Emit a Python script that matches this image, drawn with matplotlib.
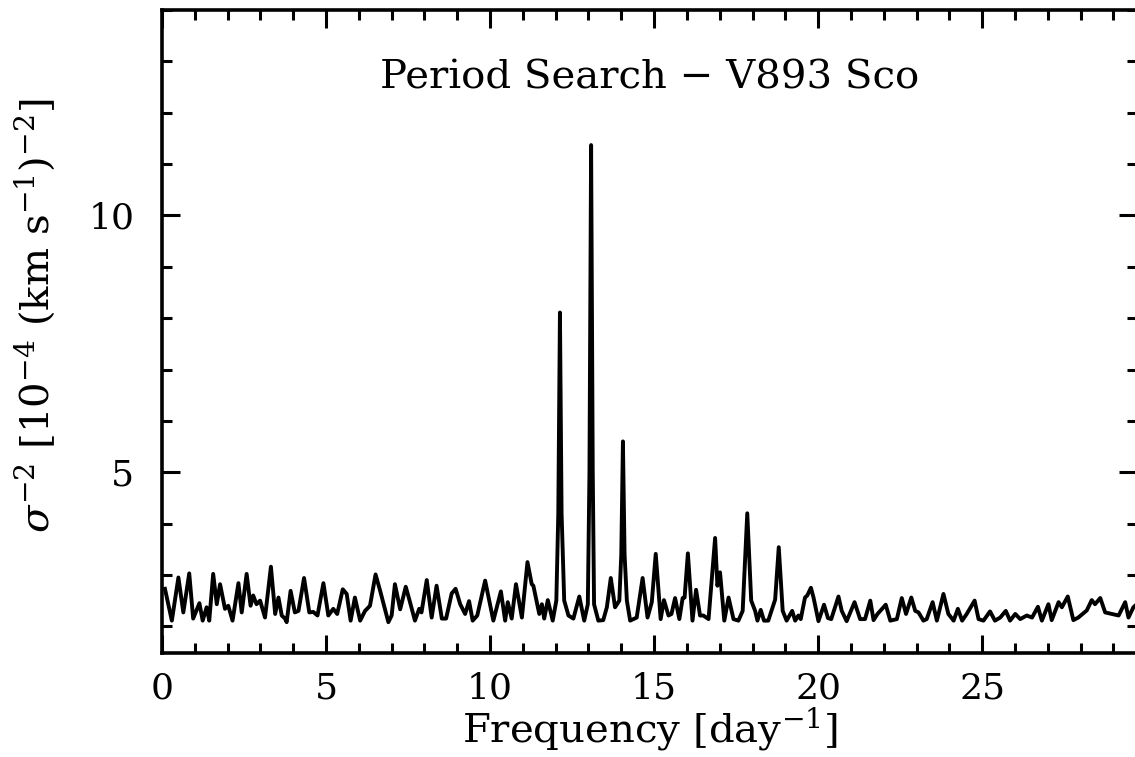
import numpy as np
import matplotlib.pyplot as plt
from matplotlib.ticker import MultipleLocator

plt.rcParams['font.family'] = 'DejaVu Serif'
plt.rcParams['mathtext.fontset'] = 'dejavuserif'

# periodogram: frequency [1/day] and sigma^-2 [1e-4 (km/s)^-2]
freq = [0.09, 0.30, 0.50, 0.65, 0.83, 0.95, 1.14, 1.24, 1.36, 1.44, 1.56, 1.67, 1.77, 1.92, 2.02, 2.15,
        2.33, 2.43, 2.58, 2.70, 2.78, 2.88, 2.99, 3.14, 3.32, 3.45, 3.55, 3.65, 3.75, 3.80, 3.92, 4.05,
        4.16, 4.33, 4.49, 4.61, 4.74, 4.92, 5.07, 5.22, 5.34, 5.51, 5.63, 5.75, 5.88, 6.04, 6.19, 6.34,
        6.51, 6.65, 6.90, 7.00, 7.10, 7.26, 7.43, 7.56, 7.71, 7.84, 7.91, 8.07, 8.22, 8.37, 8.53, 8.66,
        8.83, 8.95, 9.09, 9.24, 9.36, 9.47, 9.61, 9.85, 10.10, 10.33, 10.46, 10.54, 10.66, 10.79, 10.97,
        11.14, 11.27, 11.32, 11.50, 11.58, 11.65, 11.76, 11.91, 12.02, 12.08, 12.13, 12.18, 12.26, 12.39,
        12.54, 12.72, 12.87, 12.98, 13.03, 13.08, 13.13, 13.17, 13.30, 13.45, 13.56, 13.68, 13.81, 13.94,
        14.00, 14.05, 14.10, 14.17, 14.27, 14.47, 14.65, 14.80, 14.93, 15.05, 15.20, 15.30, 15.44, 15.53,
        15.64, 15.77, 15.87, 15.93, 16.03, 16.17, 16.28, 16.40, 16.50, 16.66, 16.86, 16.93, 17.01, 17.14,
        17.27, 17.42, 17.57, 17.70, 17.84, 17.96, 18.08, 18.15, 18.25, 18.35, 18.48, 18.69, 18.80, 18.92,
        19.04, 19.21, 19.30, 19.40, 19.47, 19.60, 19.67, 19.78, 19.86, 20.01, 20.18, 20.30, 20.40, 20.62,
        20.72, 20.87, 21.11, 21.28, 21.43, 21.59, 21.69, 21.81, 22.06, 22.20, 22.40, 22.55, 22.68, 22.84,
        22.96, 23.06, 23.21, 23.31, 23.49, 23.62, 23.82, 23.97, 24.13, 24.26, 24.39, 24.53, 24.77, 24.89,
        25.04, 25.24, 25.39, 25.55, 25.72, 25.85, 26.01, 26.16, 26.36, 26.52, 26.70, 26.82, 27.02, 27.12,
        27.33, 27.43, 27.61, 27.78, 27.93, 28.19, 28.34, 28.44, 28.60, 28.75, 28.96, 29.16, 29.36, 29.46,
        29.61, 29.75]
power = [2.73, 2.11, 2.95, 2.27, 3.03, 2.15, 2.45, 2.11, 2.37, 2.11, 3.02, 2.43, 2.82, 2.34, 2.40, 2.11,
         2.84, 2.27, 3.02, 2.40, 2.60, 2.43, 2.50, 2.17, 3.16, 2.24, 2.56, 2.21, 2.15, 2.08, 2.69, 2.27,
         2.30, 2.94, 2.27, 2.28, 2.21, 2.84, 2.21, 2.34, 2.24, 2.72, 2.63, 2.11, 2.56, 2.11, 2.30, 2.40,
         3.01, 2.69, 2.08, 2.21, 2.82, 2.33, 2.77, 2.47, 2.11, 2.34, 2.27, 2.90, 2.17, 2.79, 2.15, 2.15,
         2.64, 2.73, 2.43, 2.24, 2.49, 2.11, 2.21, 2.89, 2.11, 2.68, 2.11, 2.47, 2.15, 2.82, 2.17,
         3.25, 2.82, 2.79, 2.24, 2.43, 2.15, 2.51, 2.11, 2.50, 4.20, 8.11, 4.20, 2.50, 2.21,
         2.15, 2.58, 2.11, 2.43, 5.00, 11.37, 5.00, 2.43, 2.11, 2.12, 2.37, 2.94, 2.37, 2.50,
         3.40, 5.60, 3.40, 2.50, 2.11, 2.17, 2.94, 2.17, 2.47, 3.41, 2.14, 2.51, 2.21, 2.24,
         2.55, 2.14, 2.55, 2.56, 3.42, 2.11, 2.71, 2.21, 2.21, 2.14, 3.72, 2.79, 3.05, 2.11,
         2.56, 2.14, 2.11, 2.30, 4.20, 2.50, 2.30, 2.11, 2.32, 2.11, 2.11, 2.52, 3.54, 2.30,
         2.11, 2.30, 2.11, 2.21, 2.14, 2.56, 2.60, 2.75, 2.56, 2.10, 2.42, 2.16, 2.14, 2.58,
         2.30, 2.10, 2.47, 2.14, 2.14, 2.50, 2.12, 2.24, 2.42, 2.11, 2.14, 2.55, 2.24, 2.56,
         2.30, 2.27, 2.11, 2.14, 2.47, 2.11, 2.63, 2.24, 2.11, 2.34, 2.11, 2.24, 2.50, 2.14,
         2.11, 2.29, 2.11, 2.17, 2.30, 2.11, 2.24, 2.14, 2.21, 2.17, 2.38, 2.11, 2.43, 2.12,
         2.47, 2.37, 2.58, 2.12, 2.17, 2.31, 2.51, 2.43, 2.55, 2.27, 2.24, 2.21, 2.47, 2.17,
         2.37, 2.45]

fig = plt.figure(figsize=(11.35, 7.57), dpi=100)
ax = fig.add_axes([162/1135, 104/757, 975/1135, 643/757])

ax.plot(freq, power, color='black', lw=2.8, solid_joinstyle='round')

ax.set_xlim(0, 29.72)
ax.set_ylim(1.48, 14.0)
ax.xaxis.set_major_locator(MultipleLocator(5))
ax.xaxis.set_minor_locator(MultipleLocator(1))
ax.yaxis.set_major_locator(MultipleLocator(5))
ax.yaxis.set_minor_locator(MultipleLocator(1))
ax.tick_params(which='both', direction='in', top=True, right=True, width=2.2, labelsize=26)
ax.tick_params(which='major', length=13)
ax.tick_params(which='minor', length=7)
ax.tick_params(axis='x', pad=13)
ax.tick_params(axis='y', pad=20)
for s in ax.spines.values():
    s.set_linewidth(2.6)

ax.text(0.5, 0.895, 'Period Search \u2212 V893 Sco', transform=ax.transAxes,
        ha='center', va='center', fontsize=29)
ax.set_xlabel(r'Frequency [day$^{-1}$]', fontsize=29, labelpad=0)
ax.set_ylabel(r'$\sigma^{-2}$ [10$^{-4}$ (km s$^{-1}$)$^{-2}$]', fontsize=29)
ax.yaxis.set_label_coords(-0.108, 0.525)

fig.savefig('out.png', dpi=100)
